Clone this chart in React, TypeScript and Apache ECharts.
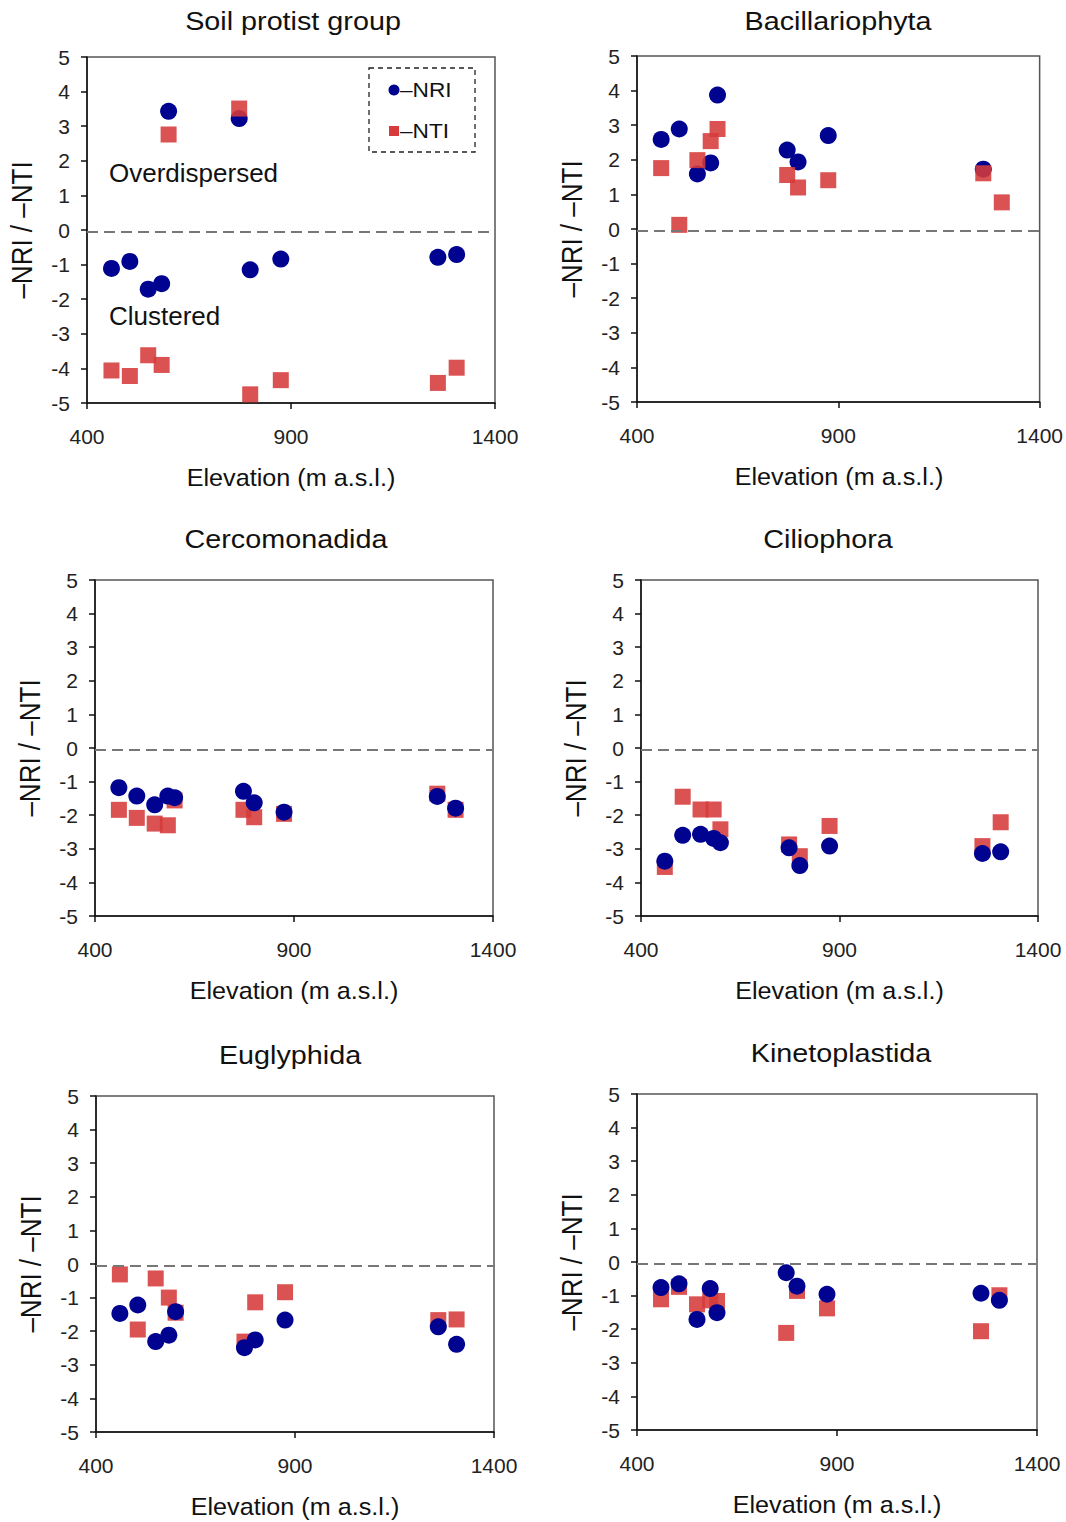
import React, { useEffect, useRef } from "react";
import * as echarts from "echarts";

// ---- data ----
const elevation = [460, 505, 550, 583, 600, 773, 800, 875, 1260, 1306];
const xTicks = [400, 900, 1400];
const panelTitles = [
  "Soil protist group",
  "Bacillariophyta",
  "Cercomonadida",
  "Ciliophora",
  "Euglyphida",
  "Kinetoplastida",
];
const soilNRI = [-1.11, -0.91, -1.71, -1.55, 3.43, 3.22, -1.15, -0.84, -0.79, -0.71];
const soilNTI = [-4.06, -4.22, -3.62, -3.9, 2.76, 3.51, -4.75, -4.34, -4.42, -3.98];
const bacNRI = [2.59, 2.89, 1.59, 1.91, 3.87, 2.28, 1.94, 2.7, 1.73, null];
const bacNTI = [1.76, 0.12, 1.99, 2.54, 2.89, 1.56, 1.2, 1.41, 1.61, 0.77];
const cerNRI = [-1.18, -1.43, -1.69, -1.43, -1.48, -1.29, -1.63, -1.91, -1.44, -1.79];
const cerNTI = [-1.84, -2.08, -2.25, -2.3, -1.56, -1.84, -2.06, -1.96, -1.36, -1.84];
const cilNRI = [-3.37, -2.6, -2.57, -2.69, -2.82, -2.97, -3.5, -2.92, -3.14, -3.09];
const cilNTI = [-3.54, -1.45, -1.83, -1.83, -2.42, -2.87, -3.22, -2.32, -2.92, -2.21];
const eugNRI = [-1.47, -1.22, -2.31, -2.12, -1.42, -2.49, -2.26, -1.67, -1.87, -2.39];
const eugNTI = [-0.31, -1.95, -0.43, -1.0, -1.45, -2.31, -1.14, -0.84, -1.67, -1.65];
const kinNRI = [-0.76, -0.65, -1.71, -0.79, -1.51, -0.32, -0.72, -0.96, -0.93, -1.14];
const kinNTI = [-1.11, -0.74, -1.26, -1.14, -1.16, -2.11, -0.86, -1.38, -2.06, -0.99];
const nriSets = [soilNRI, bacNRI, cerNRI, cilNRI, eugNRI, kinNRI];
const ntiSets = [soilNTI, bacNTI, cerNTI, cilNTI, eugNTI, kinNTI];
const refLine = -0.06;
const yAxisName = "\u2013NRI / \u2013NTI";
const xAxisName = "Elevation (m a.s.l.)";
const legendNames = ["\u2013NRI", "\u2013NTI"];

// ---- layout ----
const layouts = [
  { left: 87, top: 57, width: 408, height: 346, titleX: 293, titleY: 22, circlesOnTop: false },
  { left: 637, top: 56, width: 404, height: 346, titleX: 838, titleY: 22, circlesOnTop: false },
  { left: 95, top: 580, width: 398, height: 336, titleX: 286, titleY: 540, circlesOnTop: true },
  { left: 641, top: 580, width: 397, height: 336, titleX: 828, titleY: 540, circlesOnTop: true },
  { left: 96, top: 1096, width: 398, height: 336, titleX: 290, titleY: 1056, circlesOnTop: true },
  { left: 637, top: 1094, width: 400, height: 336, titleX: 841, titleY: 1054, circlesOnTop: true },
];

const FONT = "'Liberation Sans', Arial, sans-serif";
const BLUE = "#000390";
const RED = "#D63A3A";

export default function App() {
  const ref = useRef<HTMLDivElement>(null);
  useEffect(() => {
    document.body.style.margin = "0";
    const chart = echarts.init(ref.current!, null, { renderer: "svg" });
    const grid: any[] = [];
    const xAxis: any[] = [];
    const yAxis: any[] = [];
    const series: any[] = [];
    const graphic: any[] = [];

    layouts.forEach((L, i) => {
      grid.push({
        left: L.left,
        top: L.top,
        width: L.width,
        height: L.height,
        show: true,
        borderColor: "#555",
        borderWidth: 1.5,
        backgroundColor: "transparent",
      });
      xAxis.push({
        type: "value",
        gridIndex: i,
        min: xTicks[0],
        max: xTicks[xTicks.length - 1],
        interval: 500,
        axisLine: { show: true, onZero: false, lineStyle: { color: "#111", width: 1.5 } },
        axisTick: { show: true, inside: false, length: 6, lineStyle: { color: "#111", width: 1.5 } },
        axisLabel: {
          fontSize: 21,
          color: "#222",
          fontFamily: FONT,
          margin: 23,
          formatter: (v: number) => String(v),
        },
        splitLine: { show: false },
      });
      yAxis.push({
        type: "value",
        gridIndex: i,
        min: -5,
        max: 5,
        interval: 1,
        axisLine: { show: true, onZero: false, lineStyle: { color: "#111", width: 1.5 } },
        axisTick: { show: true, inside: false, length: 6, lineStyle: { color: "#111", width: 1.5 } },
        axisLabel: { fontSize: 21, color: "#222", fontFamily: FONT, margin: 17 },
        splitLine: { show: false },
      });
      const nri = elevation
        .map((e, j) => [e, nriSets[i][j]])
        .filter((d) => d[1] !== null);
      const nti = elevation
        .map((e, j) => [e, ntiSets[i][j]])
        .filter((d) => d[1] !== null);
      series.push({
        type: "scatter",
        name: legendNames[0],
        xAxisIndex: i,
        yAxisIndex: i,
        symbol: "circle",
        symbolSize: 17,
        itemStyle: { color: BLUE, opacity: 1 },
        z: L.circlesOnTop ? 4 : 3,
        data: nri,
        markLine: {
          silent: true,
          symbol: "none",
          label: { show: false },
          lineStyle: { color: "#777", type: [11, 6], width: 2 },
          data: [{ yAxis: refLine }],
        },
      });
      series.push({
        type: "scatter",
        name: legendNames[1],
        xAxisIndex: i,
        yAxisIndex: i,
        symbol: "rect",
        symbolSize: 16,
        itemStyle: { color: RED, opacity: 0.88 },
        z: L.circlesOnTop ? 3 : 4,
        data: nti,
      });

      // titles
      graphic.push({
        type: "text",
        x: L.titleX,
        y: L.titleY,
        scaleX: 1.15,
        style: {
          text: panelTitles[i],
          font: `25px ${FONT}`,
          fill: "#111",
          textAlign: "center",
          textVerticalAlign: "middle",
        },
      });
      // x name
      graphic.push({
        type: "text",
        x: L.left + L.width / 2,
        y: L.top + L.height + 75,
        scaleX: 1.05,
        style: {
          text: xAxisName,
          font: `24px ${FONT}`,
          fill: "#111",
          textAlign: "center",
          textVerticalAlign: "middle",
        },
      });
      // y name
      graphic.push({
        type: "text",
        x: L.left - 65,
        y: L.top + L.height / 2,
        rotation: Math.PI / 2,
        scaleY: 1.12,
        style: {
          text: yAxisName,
          font: `26px ${FONT}`,
          fill: "#111",
          textAlign: "center",
          textVerticalAlign: "middle",
        },
      });
    });

    // annotations in first panel
    graphic.push({
      type: "text",
      x: 109,
      y: 173,
      style: { text: "Overdispersed", font: `26px ${FONT}`, fill: "#111", textAlign: "left", textVerticalAlign: "middle" },
    });
    graphic.push({
      type: "text",
      x: 109,
      y: 316,
      style: { text: "Clustered", font: `26px ${FONT}`, fill: "#111", textAlign: "left", textVerticalAlign: "middle" },
    });
    // legend box
    graphic.push({
      type: "rect",
      shape: { x: 369, y: 68, width: 106, height: 84 },
      style: { fill: "none", stroke: "#222", lineWidth: 1.3, lineDash: [5, 4] },
      z: 10,
    });
    graphic.push({
      type: "circle",
      shape: { cx: 394, cy: 90, r: 5.5 },
      style: { fill: BLUE },
      z: 10,
    });
    graphic.push({
      type: "text",
      x: 400,
      y: 90,
      scaleX: 1.08,
      style: { text: legendNames[0], font: `21px ${FONT}`, fill: "#111", textAlign: "left", textVerticalAlign: "middle" },
      z: 10,
    });
    graphic.push({
      type: "rect",
      shape: { x: 389, y: 126, width: 10, height: 10 },
      style: { fill: RED },
      z: 10,
    });
    graphic.push({
      type: "text",
      x: 400,
      y: 131,
      scaleX: 1.08,
      style: { text: legendNames[1], font: `21px ${FONT}`, fill: "#111", textAlign: "left", textVerticalAlign: "middle" },
      z: 10,
    });

    chart.setOption({
      animation: false,
      backgroundColor: "#fff",
      textStyle: { fontFamily: FONT },
      grid,
      xAxis,
      yAxis,
      series,
      graphic,
    });
    return () => chart.dispose();
  }, []);
  return <div ref={ref} style={{ width: 1066, height: 1522 }} />;
}
